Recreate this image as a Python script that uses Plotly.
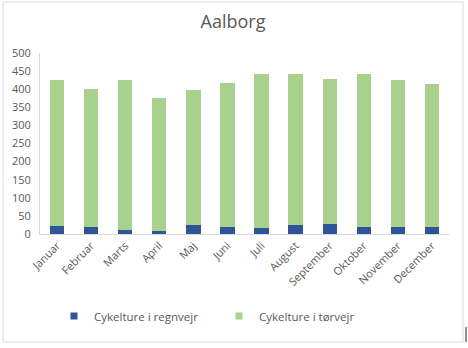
import plotly.graph_objects as go

months = ["Januar", "Februar", "Marts", "April", "Maj", "Juni", "Juli",
          "August", "September", "Oktober", "November", "December"]
rain_trips = [22, 19, 11, 8, 25, 19, 17, 25, 28, 19, 19, 19]
dry_trips = [403, 381, 414, 367, 372, 399, 425, 417, 400, 423, 406, 395]
y_ticks = [0, 50, 100, 150, 200, 250, 300, 350, 400, 450, 500]

series = [
    ("Cykelture i regnvejr", rain_trips, "#2F5597"),
    ("Cykelture i tørvejr", dry_trips, "#A9D18E"),
]

W, H = 468, 348
ML, MR, MT, MB = 40, 19, 53, 114
PW = W - ML - MR
PH = H - MT - MB


def px_x(p):
    return (p - ML) / PW


def px_y(p):
    return (H - MB - p) / PH


font_family = "Open Sans, Liberation Sans, sans-serif"
grey = "#595959"
line_grey = "#D9D9D9"

fig = go.Figure()
for name, values, color in series:
    fig.add_bar(x=months, y=values, name=name, showlegend=False,
                marker=dict(color=color, line=dict(width=0)))
# small square legend keys
for name, values, color in series:
    fig.add_scatter(x=[None], y=[None], name=name, mode="markers",
                    marker=dict(symbol="square", size=7, color=color))

fig.update_layout(
    width=W, height=H,
    barmode="stack", bargap=0.58,
    margin=dict(l=ML, r=MR, t=MT, b=MB, autoexpand=False),
    paper_bgcolor="white", plot_bgcolor="white",
    font=dict(family=font_family, size=11, color=grey),
    title=dict(text="Aalborg", x=233 / W, xref="container", xanchor="center",
               y=1 - 22 / H, yanchor="middle",
               font=dict(size=18, color=grey, family=font_family)),
    legend=dict(orientation="h", x=px_x(54), xanchor="left",
                y=px_y(316), yanchor="middle",
                font=dict(size=11.5, color=grey), itemwidth=30,
                entrywidth=120, entrywidthmode="pixels",
                traceorder="normal", bgcolor="rgba(0,0,0,0)"),
    xaxis=dict(showgrid=False, showline=True, linecolor=line_grey,
               linewidth=1, ticks="", tickangle=-45,
               tickfont=dict(size=11, color=grey)),
    yaxis=dict(range=[0, 500], tickvals=y_ticks, showgrid=False,
               showline=True, linecolor=line_grey, linewidth=1,
               zeroline=False, ticks="", ticklabelstandoff=6,
               tickfont=dict(size=11, color=grey)),
    shapes=[
        dict(type="rect", xref="paper", yref="paper",
             x0=px_x(3), x1=px_x(463), y0=px_y(342), y1=px_y(2),
             line=dict(color=line_grey, width=1), layer="below"),
        dict(type="line", xref="paper", yref="paper",
             x0=px_x(466), x1=px_x(466), y0=px_y(342), y1=px_y(327),
             line=dict(color="#222222", width=1)),
    ],
)

fig.write_html("out.html")
